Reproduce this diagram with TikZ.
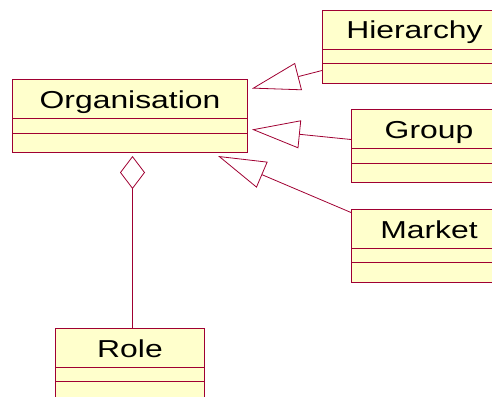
\documentclass[tikz,border=0pt]{standalone}
\usepackage{fontspec}
\setmainfont{Liberation Sans}[FakeStretch=1.3]
\usetikzlibrary{arrows.meta}
\definecolor{umlred}{RGB}{160,0,50}
\definecolor{umlfill}{RGB}{255,255,204}
\tikzset{
  classbox/.style={draw=umlred, fill=umlfill, line width=1pt, anchor=north west,
    inner sep=0pt, minimum height=73pt},
  classname/.style={anchor=base, inner sep=0pt, font=\fontsize{24.5}{28}\selectfont},
  divider/.style={draw=umlred, line width=0.8pt},
  generalise/.style={draw=umlred, line width=0.8pt,
    -{Triangle[open, length=48pt, width=28pt, fill=white]}},
  aggregate/.style={draw=umlred, line width=0.8pt,
    -{Diamond[open, length=33pt, width=25pt, fill=white]}}
}
\begin{document}
\begin{tikzpicture}[x=1pt,y=-1pt]
  \clip (0,0) rectangle (492,396);
  % class Organisation
  \node[classbox, minimum width=235pt] (org) at (12,79) {};
  \draw[divider] ([yshift=-39pt]org.north west) -- ([yshift=-39pt]org.north east);
  \draw[divider] ([yshift=-54pt]org.north west) -- ([yshift=-54pt]org.north east);
  \node[classname] (orgname) at ([yshift=-29pt]org.north) {Organisation};
  % class Hierarchy
  \node[classbox, minimum width=184pt] (hier) at (322,10) {};
  \draw[divider] ([yshift=-39pt]hier.north west) -- ([yshift=-39pt]hier.north east);
  \draw[divider] ([yshift=-53pt]hier.north west) -- ([yshift=-53pt]hier.north east);
  \node[classname] (hiername) at ([yshift=-28pt]hier.north) {Hierarchy};
  % class Group
  \node[classbox, minimum width=155pt] (group) at (351,109) {};
  \draw[divider] ([yshift=-39pt]group.north west) -- ([yshift=-39pt]group.north east);
  \draw[divider] ([yshift=-54pt]group.north west) -- ([yshift=-54pt]group.north east);
  \node[classname] (groupname) at ([yshift=-29pt]group.north) {Group};
  % class Market
  \node[classbox, minimum width=155pt] (market) at (351,209) {};
  \draw[divider] ([yshift=-39pt]market.north west) -- ([yshift=-39pt]market.north east);
  \draw[divider] ([yshift=-53pt]market.north west) -- ([yshift=-53pt]market.north east);
  \node[classname] (marketname) at ([yshift=-29pt]market.north) {Market};
  % class Role
  \node[classbox, minimum width=149pt] (role) at (55,328) {};
  \draw[divider] ([yshift=-39pt]role.north west) -- ([yshift=-39pt]role.north east);
  \draw[divider] ([yshift=-53pt]role.north west) -- ([yshift=-53pt]role.north east);
  \node[classname] (rolename) at ([yshift=-29pt]role.north) {Role};
  % generalisations to Organisation
  \draw[generalise] ([shift={(0,23.5)}]hier.west) -- ([shift={(4,-27.5)}]org.east);
  \draw[generalise] ([shift={(0,-6.5)}]group.west) -- ([shift={(4,13.5)}]org.east);
  \draw[generalise] ([shift={(0,-33.5)}]market.west) -- ([shift={(-30,3)}]org.south east);
  % aggregation Role -> Organisation
  \draw[aggregate] ([xshift=2.5pt]role.north) -- ([shift={(2.5,3)}]org.south);
\end{tikzpicture}
\end{document}
